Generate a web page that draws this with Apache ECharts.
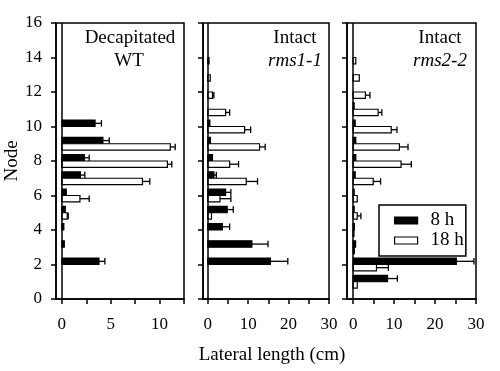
<!DOCTYPE html>
<html>
<head>
<meta charset="utf-8">
<script src="https://cdn.jsdelivr.net/npm/echarts@6/dist/echarts.min.js"></script>
<style>html,body{margin:0;padding:0;background:#fff}#c{width:500px;height:371px}</style>
</head>
<body>
<div id="c"></div>
<script>
// Node numbers (y values)
const nodes = [1, 2, 3, 4, 5, 6, 7, 8, 9, 10, 11, 12, 13, 14, 15];

// Panel 1: Decapitated WT
const wt8 = [0, 3.8, 0.25, 0.2, 0.35, 0.45, 1.9, 2.3, 4.2, 3.4, 0, 0, 0, 0, 0];
const wt8Err = [0, 0.6, 0, 0, 0, 0, 0.45, 0.5, 0.65, 0.65, 0, 0, 0, 0, 0];
const wt18 = [0, 0, 0, 0, 0.55, 1.85, 8.25, 10.8, 11.1, 0, 0, 0, 0, 0, 0];
const wt18Err = [0, 0, 0, 0, 0.1, 0.95, 0.75, 0.45, 0.5, 0, 0, 0, 0, 0, 0];

// Panel 2: Intact rms1-1
const r1_8 = [0, 15.5, 10.9, 3.6, 4.8, 4.4, 1.5, 1.15, 0.65, 0.5, 0, 0, 0, 0, 0];
const r1_8Err = [0, 4.3, 4.0, 1.8, 1.5, 1.3, 0.6, 0, 0, 0, 0, 0, 0, 0, 0];
const r1_18 = [0, 0, 0, 0, 0.9, 3.0, 9.5, 5.4, 12.8, 9.1, 4.4, 1.15, 0.6, 0.3, 0];
const r1_18Err = [0, 0, 0, 0, 0, 2.7, 2.8, 2.2, 1.4, 1.5, 1.0, 0.35, 0, 0, 0];

// Panel 3: Intact rms2-2
const r2_8 = [8.4, 25.2, 0.6, 0.3, 0.25, 0.25, 0.5, 0.65, 0.65, 0.5, 0.25, 0, 0, 0, 0];
const r2_8Err = [2.4, 4.3, 0, 0, 0, 0, 0, 0, 0, 0, 0, 0, 0, 0, 0];
const r2_18 = [1.0, 5.7, 0.3, 0.2, 1.0, 1.0, 4.9, 11.7, 11.3, 9.3, 6.1, 3.0, 1.5, 0.65, 0];
const r2_18Err = [0, 2.9, 0, 0, 0.9, 0, 1.8, 2.5, 2.1, 1.4, 0.9, 1.1, 0, 0, 0];

// Tick labels
const yTicks = [0, 2, 4, 6, 8, 10, 12, 14, 16];
const x1Ticks = [0, 2.5, 5, 7.5, 10, 12.5];
const x1Labels = [0, 5, 10];
const x23Ticks = [0, 5, 10, 15, 20, 25, 30];
const x23Labels = [0, 10, 20, 30];

const FONT = '"Liberation Serif", "DejaVu Serif", serif';
const BAR_H = 0.37;

function toData(vals, errs) {
  const out = [];
  nodes.forEach((n, i) => { if (vals[i] > 0) out.push([vals[i], n, errs[i]]); });
  return out;
}

function makeRender(upper) {
  return function (params, api) {
    const v = api.value(0), n = api.value(1), e = api.value(2);
    const y0 = upper ? n + BAR_H : n;
    const y1 = upper ? n : n - BAR_H;
    const a = api.coord([0, y0]);
    const b = api.coord([v, y1]);
    const children = [{
      type: 'rect',
      shape: { x: a[0], y: a[1], width: b[0] - a[0], height: b[1] - a[1] },
      style: { fill: upper ? '#000' : '#fff', stroke: '#000', lineWidth: 1.2 }
    }];
    if (e > 0) {
      const c = api.coord([v + e, (y0 + y1) / 2]);
      const cap = Math.abs(b[1] - a[1]) / 2;
      children.push({ type: 'line', shape: { x1: b[0], y1: c[1], x2: c[0], y2: c[1] }, style: { stroke: '#000', lineWidth: 1.3 } });
      children.push({ type: 'line', shape: { x1: c[0], y1: c[1] - cap, x2: c[0], y2: c[1] + cap }, style: { stroke: '#000', lineWidth: 1.3 } });
    }
    return { type: 'group', children };
  };
}

const grids = [
  { left: 56, width: 128, top: 23, height: 276 },
  { left: 203, width: 126, top: 23, height: 276 },
  { left: 347, width: 129, top: 23, height: 276 }
];
const xRanges = [[-0.6, 12.5], [-1.2, 30], [-1.5, 30]];

const axisLineStyle = { color: '#000', width: 1.5 };

const xAxes = grids.map((g, i) => ({
  type: 'value', gridIndex: i, min: xRanges[i][0], max: xRanges[i][1],
  axisLine: { show: true, onZero: false, lineStyle: axisLineStyle },
  axisTick: { show: true, inside: false, length: 5, lineStyle: axisLineStyle, customValues: i === 0 ? x1Ticks : x23Ticks },
  axisLabel: { show: true, customValues: i === 0 ? x1Labels : x23Labels, fontFamily: FONT, fontSize: 17, color: '#000', margin: 17 },
  splitLine: { show: false }
}));

const yAxes = grids.map((g, i) => ({
  type: 'value', gridIndex: i, min: 0, max: 16, interval: 2,
  name: i === 0 ? 'Node' : '', nameLocation: 'middle', nameGap: 34,
  nameTextStyle: { fontFamily: FONT, fontSize: 19, color: '#000' },
  axisLine: { show: true, onZero: false, lineStyle: axisLineStyle },
  axisTick: { show: true, inside: false, length: 5, lineStyle: axisLineStyle },
  axisLabel: { show: i === 0, fontFamily: FONT, fontSize: 17, color: '#000', margin: 14 },
  splitLine: { show: false }
}));

const panelData = [
  [toData(wt8, wt8Err), toData(wt18, wt18Err)],
  [toData(r1_8, r1_8Err), toData(r1_18, r1_18Err)],
  [toData(r2_8, r2_8Err), toData(r2_18, r2_18Err)]
];

const series = [];
panelData.forEach((pd, i) => {
  series.push({
    type: 'custom', name: '8 h', xAxisIndex: i, yAxisIndex: i,
    renderItem: makeRender(true), data: pd[0],
    itemStyle: { color: '#000' },
    markLine: { silent: true, symbol: 'none', label: { show: false },
      lineStyle: { color: '#000', width: 1.5, type: 'solid' }, data: [{ xAxis: 0 }] }
  });
  series.push({
    type: 'custom', name: '18 h', xAxisIndex: i, yAxisIndex: i,
    renderItem: makeRender(false), data: pd[1],
    itemStyle: { color: '#fff', borderColor: '#000', borderWidth: 1.2 }
  });
});

const chart = echarts.init(document.getElementById('c'), null, { renderer: 'canvas' });
chart.setOption({
  animation: false,
  backgroundColor: '#fff',
  grid: grids.map(g => Object.assign({ show: true, borderColor: '#000', borderWidth: 1.5, backgroundColor: 'transparent' }, g)),
  xAxis: xAxes,
  yAxis: yAxes,
  legend: {
    orient: 'vertical', left: 379, top: 205,
    backgroundColor: '#fff', borderColor: '#000', borderWidth: 1.5,
    padding: [6, 2, 6, 15], itemGap: 1, itemWidth: 23, itemHeight: 7, icon: 'rect',
    textStyle: { fontFamily: FONT, fontSize: 19, color: '#000', lineHeight: 16, padding: [0, 0, 0, 8] },
    data: [
      { name: '8 h', itemStyle: { color: '#000', borderColor: '#000', borderWidth: 1.2 } },
      { name: '18 h', itemStyle: { color: '#fff', borderColor: '#000', borderWidth: 1.2 } }
    ]
  },
  graphic: [
    { type: 'text', x: 130, y: 38, style: { text: 'Decapitated', font: '19px ' + FONT, fill: '#000', textAlign: 'center', textVerticalAlign: 'middle' } },
    { type: 'text', x: 129, y: 61, style: { text: 'WT', font: '19px ' + FONT, fill: '#000', textAlign: 'center', textVerticalAlign: 'middle' } },
    { type: 'text', x: 295, y: 38, style: { text: 'Intact', font: '19px ' + FONT, fill: '#000', textAlign: 'center', textVerticalAlign: 'middle' } },
    { type: 'text', x: 295, y: 61, style: { text: 'rms1-1', font: 'italic 19px ' + FONT, fill: '#000', textAlign: 'center', textVerticalAlign: 'middle' } },
    { type: 'text', x: 440, y: 38, style: { text: 'Intact', font: '19px ' + FONT, fill: '#000', textAlign: 'center', textVerticalAlign: 'middle' } },
    { type: 'text', x: 440, y: 61, style: { text: 'rms2-2', font: 'italic 19px ' + FONT, fill: '#000', textAlign: 'center', textVerticalAlign: 'middle' } },
    { type: 'text', x: 272, y: 355, style: { text: 'Lateral length (cm)', font: '19px ' + FONT, fill: '#000', textAlign: 'center', textVerticalAlign: 'middle' } }
  ],
  series: series
});
</script>
</body>
</html>
